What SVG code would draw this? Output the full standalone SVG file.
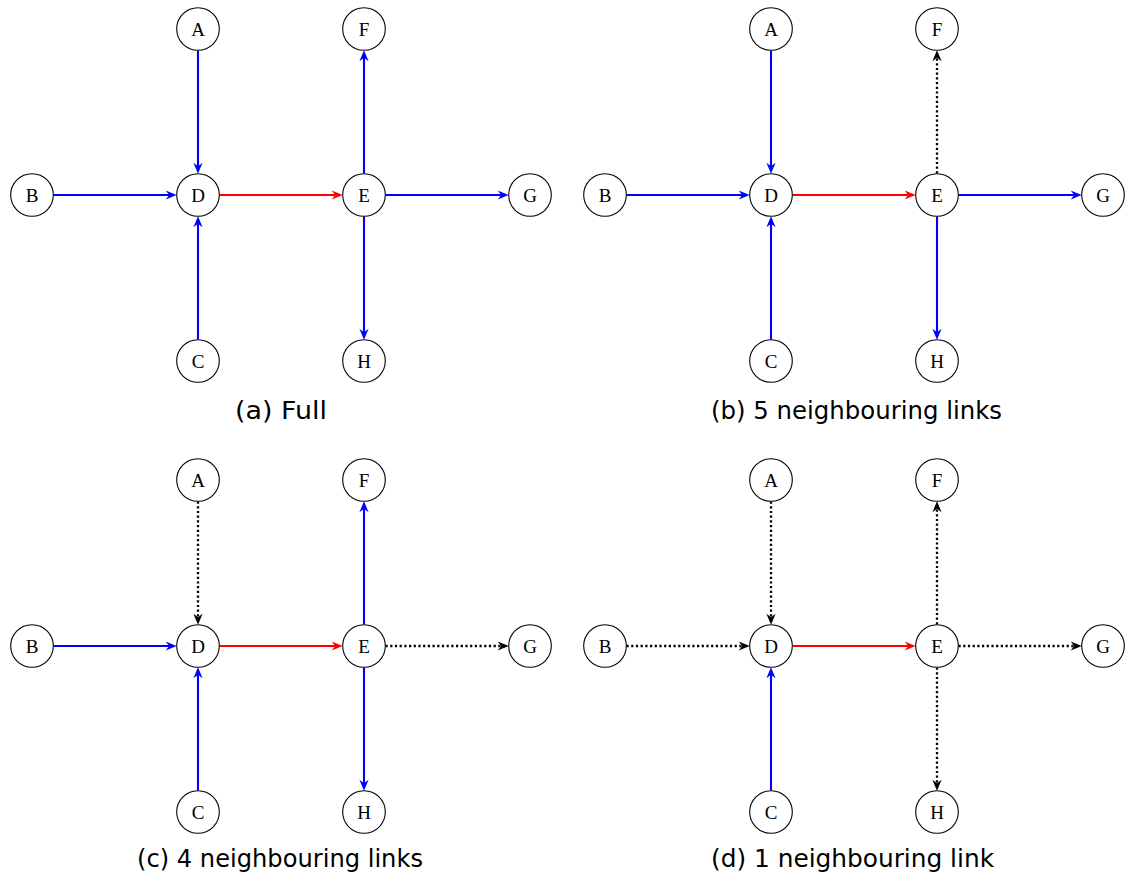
<svg xmlns="http://www.w3.org/2000/svg" width="1127" height="880" viewBox="0 0 1127 880">
<style>
.node circle{fill:#fff;stroke:#000;stroke-width:1.1}
.node text{font-family:"Liberation Serif","Times New Roman",serif;font-size:19px;text-anchor:middle;fill:#000}
.blue{stroke:#0000ff;stroke-width:2.1;fill:none}
.red{stroke:#ff0000;stroke-width:2.1;fill:none}
.dot{stroke:#000;stroke-width:2.3;stroke-dasharray:2.2 2.5;fill:none}
.cap{font-family:"DejaVu Sans","Liberation Sans",sans-serif;font-size:24px;fill:#000}
</style>
<defs>
<marker id="ab" viewBox="-13 -6 16 12" refX="-3" refY="0" markerWidth="16" markerHeight="12" markerUnits="userSpaceOnUse" orient="auto"><path d="M0,0 L-11,-4.6 L-7.5,0 L-11,4.6 Z" fill="#0000ff"/></marker>
<marker id="ar" viewBox="-13 -6 16 12" refX="-3" refY="0" markerWidth="16" markerHeight="12" markerUnits="userSpaceOnUse" orient="auto"><path d="M0,0 L-11,-4.6 L-7.5,0 L-11,4.6 Z" fill="#ff0000"/></marker>
<marker id="ak" viewBox="-13 -6 16 12" refX="-3" refY="0" markerWidth="16" markerHeight="12" markerUnits="userSpaceOnUse" orient="auto"><path d="M0,0 L-11,-4.6 L-7.5,0 L-11,4.6 Z" fill="#000"/></marker>
</defs>

<!-- Panel a -->
<g id="panel-a">
<g id="a-edges">
<line class="blue" x1="198" y1="50.5" x2="198" y2="170.7" marker-end="url(#ab)"/>
<line class="blue" x1="53.5" y1="195" x2="173.7" y2="195" marker-end="url(#ab)"/>
<line class="blue" x1="198" y1="339.5" x2="198" y2="219.3" marker-end="url(#ab)"/>
<line class="red" x1="219.5" y1="195" x2="339.7" y2="195" marker-end="url(#ar)"/>
<line class="blue" x1="364" y1="173.5" x2="364" y2="53.3" marker-end="url(#ab)"/>
<line class="blue" x1="385.5" y1="195" x2="505.7" y2="195" marker-end="url(#ab)"/>
<line class="blue" x1="364" y1="216.5" x2="364" y2="336.7" marker-end="url(#ab)"/>
</g>
<g id="a-A" class="node"><circle cx="198" cy="29" r="21.3"/><text x="198" y="35.5">A</text></g>
<g id="a-B" class="node"><circle cx="32" cy="195" r="21.3"/><text x="32" y="201.5">B</text></g>
<g id="a-C" class="node"><circle cx="198" cy="361" r="21.3"/><text x="198" y="367.5">C</text></g>
<g id="a-D" class="node"><circle cx="198" cy="195" r="21.3"/><text x="198" y="201.5">D</text></g>
<g id="a-E" class="node"><circle cx="364" cy="195" r="21.3"/><text x="364" y="201.5">E</text></g>
<g id="a-F" class="node"><circle cx="364" cy="29" r="21.3"/><text x="364" y="35.5">F</text></g>
<g id="a-G" class="node"><circle cx="530" cy="195" r="21.3"/><text x="530" y="201.5">G</text></g>
<g id="a-H" class="node"><circle cx="364" cy="361" r="21.3"/><text x="364" y="367.5">H</text></g>
<text class="cap" x="235" y="419" textLength="92" lengthAdjust="spacingAndGlyphs">(a) Full</text>
</g>

<!-- Panel b -->
<g id="panel-b" transform="translate(573,0)">
<g id="b-edges">
<line class="blue" x1="198" y1="50.5" x2="198" y2="170.7" marker-end="url(#ab)"/>
<line class="blue" x1="53.5" y1="195" x2="173.7" y2="195" marker-end="url(#ab)"/>
<line class="blue" x1="198" y1="339.5" x2="198" y2="219.3" marker-end="url(#ab)"/>
<line class="red" x1="219.5" y1="195" x2="339.7" y2="195" marker-end="url(#ar)"/>
<line class="dot" x1="364" y1="173.5" x2="364" y2="53.3" marker-end="url(#ak)"/>
<line class="blue" x1="385.5" y1="195" x2="505.7" y2="195" marker-end="url(#ab)"/>
<line class="blue" x1="364" y1="216.5" x2="364" y2="336.7" marker-end="url(#ab)"/>
</g>
<g id="b-A" class="node"><circle cx="198" cy="29" r="21.3"/><text x="198" y="35.5">A</text></g>
<g id="b-B" class="node"><circle cx="32" cy="195" r="21.3"/><text x="32" y="201.5">B</text></g>
<g id="b-C" class="node"><circle cx="198" cy="361" r="21.3"/><text x="198" y="367.5">C</text></g>
<g id="b-D" class="node"><circle cx="198" cy="195" r="21.3"/><text x="198" y="201.5">D</text></g>
<g id="b-E" class="node"><circle cx="364" cy="195" r="21.3"/><text x="364" y="201.5">E</text></g>
<g id="b-F" class="node"><circle cx="364" cy="29" r="21.3"/><text x="364" y="35.5">F</text></g>
<g id="b-G" class="node"><circle cx="530" cy="195" r="21.3"/><text x="530" y="201.5">G</text></g>
<g id="b-H" class="node"><circle cx="364" cy="361" r="21.3"/><text x="364" y="367.5">H</text></g>
<text class="cap" x="138" y="419" textLength="291" lengthAdjust="spacingAndGlyphs">(b) 5 neighbouring links</text>
</g>

<!-- Panel c -->
<g id="panel-c" transform="translate(0,451)">
<g id="c-edges">
<line class="dot" x1="198" y1="50.5" x2="198" y2="170.7" marker-end="url(#ak)"/>
<line class="blue" x1="53.5" y1="195" x2="173.7" y2="195" marker-end="url(#ab)"/>
<line class="blue" x1="198" y1="339.5" x2="198" y2="219.3" marker-end="url(#ab)"/>
<line class="red" x1="219.5" y1="195" x2="339.7" y2="195" marker-end="url(#ar)"/>
<line class="blue" x1="364" y1="173.5" x2="364" y2="53.3" marker-end="url(#ab)"/>
<line class="dot" x1="385.5" y1="195" x2="505.7" y2="195" marker-end="url(#ak)"/>
<line class="blue" x1="364" y1="216.5" x2="364" y2="336.7" marker-end="url(#ab)"/>
</g>
<g id="c-A" class="node"><circle cx="198" cy="29" r="21.3"/><text x="198" y="35.5">A</text></g>
<g id="c-B" class="node"><circle cx="32" cy="195" r="21.3"/><text x="32" y="201.5">B</text></g>
<g id="c-C" class="node"><circle cx="198" cy="361" r="21.3"/><text x="198" y="367.5">C</text></g>
<g id="c-D" class="node"><circle cx="198" cy="195" r="21.3"/><text x="198" y="201.5">D</text></g>
<g id="c-E" class="node"><circle cx="364" cy="195" r="21.3"/><text x="364" y="201.5">E</text></g>
<g id="c-F" class="node"><circle cx="364" cy="29" r="21.3"/><text x="364" y="35.5">F</text></g>
<g id="c-G" class="node"><circle cx="530" cy="195" r="21.3"/><text x="530" y="201.5">G</text></g>
<g id="c-H" class="node"><circle cx="364" cy="361" r="21.3"/><text x="364" y="367.5">H</text></g>
<text class="cap" x="137" y="416" textLength="286" lengthAdjust="spacingAndGlyphs">(c) 4 neighbouring links</text>
</g>

<!-- Panel d -->
<g id="panel-d" transform="translate(573,451)">
<g id="d-edges">
<line class="dot" x1="198" y1="50.5" x2="198" y2="170.7" marker-end="url(#ak)"/>
<line class="dot" x1="53.5" y1="195" x2="173.7" y2="195" marker-end="url(#ak)"/>
<line class="blue" x1="198" y1="339.5" x2="198" y2="219.3" marker-end="url(#ab)"/>
<line class="red" x1="219.5" y1="195" x2="339.7" y2="195" marker-end="url(#ar)"/>
<line class="dot" x1="364" y1="173.5" x2="364" y2="53.3" marker-end="url(#ak)"/>
<line class="dot" x1="385.5" y1="195" x2="505.7" y2="195" marker-end="url(#ak)"/>
<line class="dot" x1="364" y1="216.5" x2="364" y2="336.7" marker-end="url(#ak)"/>
</g>
<g id="d-A" class="node"><circle cx="198" cy="29" r="21.3"/><text x="198" y="35.5">A</text></g>
<g id="d-B" class="node"><circle cx="32" cy="195" r="21.3"/><text x="32" y="201.5">B</text></g>
<g id="d-C" class="node"><circle cx="198" cy="361" r="21.3"/><text x="198" y="367.5">C</text></g>
<g id="d-D" class="node"><circle cx="198" cy="195" r="21.3"/><text x="198" y="201.5">D</text></g>
<g id="d-E" class="node"><circle cx="364" cy="195" r="21.3"/><text x="364" y="201.5">E</text></g>
<g id="d-F" class="node"><circle cx="364" cy="29" r="21.3"/><text x="364" y="35.5">F</text></g>
<g id="d-G" class="node"><circle cx="530" cy="195" r="21.3"/><text x="530" y="201.5">G</text></g>
<g id="d-H" class="node"><circle cx="364" cy="361" r="21.3"/><text x="364" y="367.5">H</text></g>
<text class="cap" x="138" y="416" textLength="283" lengthAdjust="spacingAndGlyphs">(d) 1 neighbouring link</text>
</g>
</svg>
